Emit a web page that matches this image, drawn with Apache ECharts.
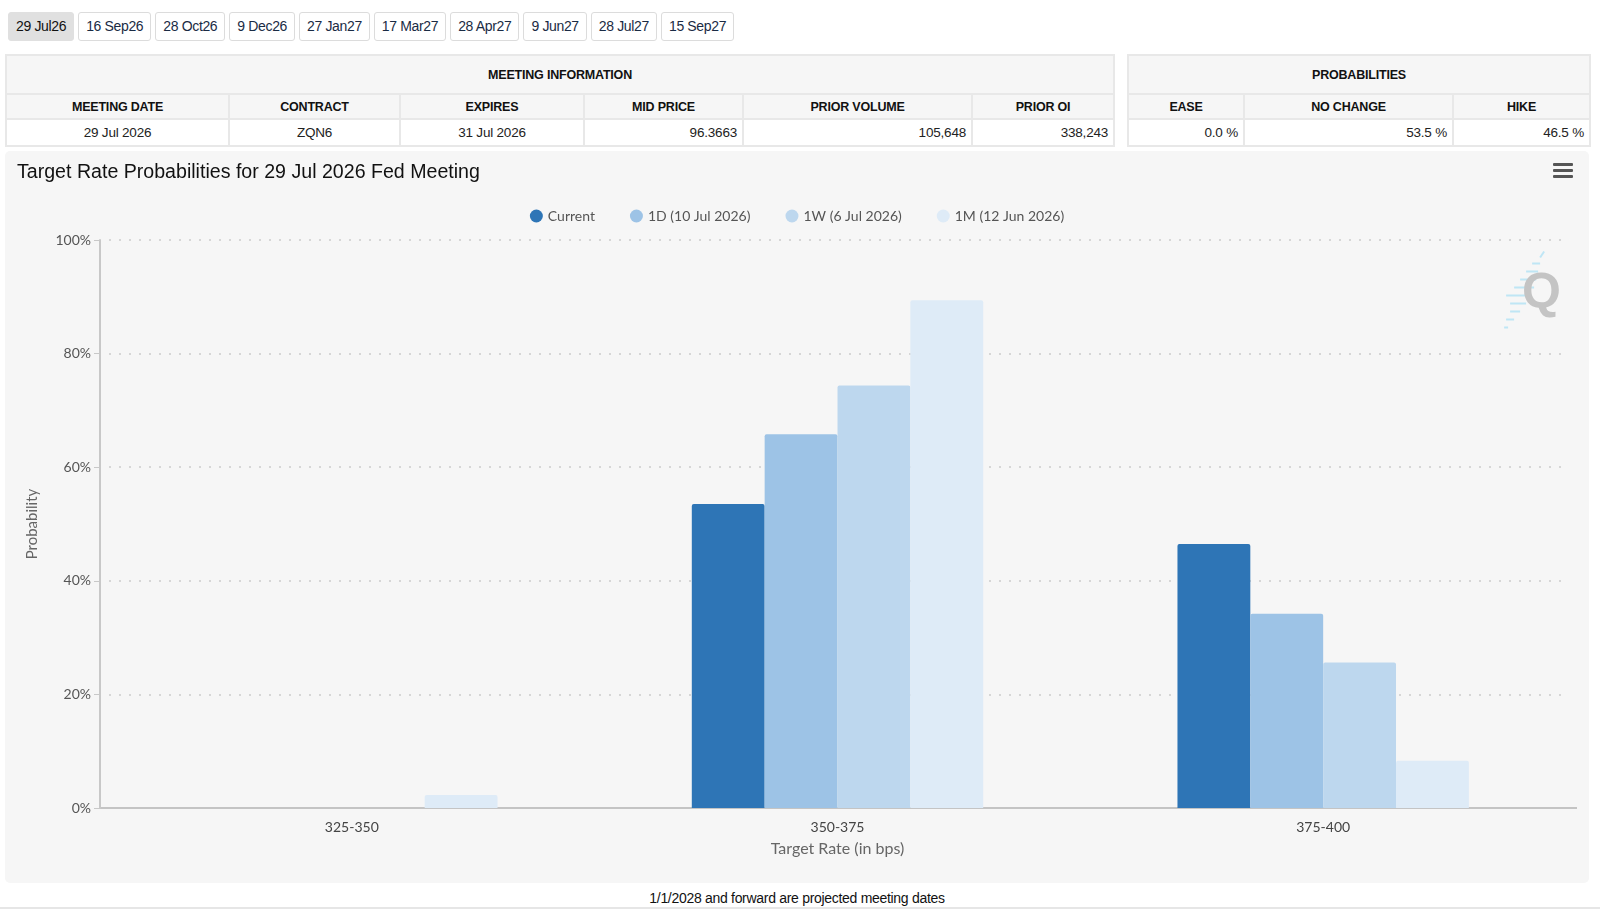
<!DOCTYPE html>
<html>
<head>
<meta charset="utf-8">
<title>Target Rate Probabilities</title>
<script src="https://cdn.jsdelivr.net/npm/echarts@6/dist/echarts.min.js"></script>
<style>
  html, body { margin: 0; padding: 0; background: #fff; }
  body { width: 1600px; height: 916px; position: relative; overflow: hidden;
         font-family: "Liberation Sans Narrow", "Arial Narrow", "Liberation Sans", Arial, sans-serif; color: #222; }
  .tabs { position: absolute; left: 8px; top: 12px; white-space: nowrap; font-size: 0; }
  .tabs span { display: inline-block; height: 27px; line-height: 27px; padding: 0 7px; margin-right: 4px;
               border: 1px solid #dcdcdc; border-radius: 3px; font-size: 14px; letter-spacing: -0.35px;
               color: #1a2b44; background: #fff; }
  .tabs span.on { background: #e0e0e0; border-color: #e0e0e0; color: #111; }
  table { position: absolute; border-collapse: collapse; table-layout: fixed; font-size: 13px; }
  td, th { border: 2px solid #e8e8e8; padding: 0 5px; }
  th { background: #f6f6f6; font-weight: bold; font-size: 12.5px; color: #111; letter-spacing: -0.2px; }
  tr.top { height: 39px; }
  tr.cols { height: 25px; }
  tr.data { height: 27px; }
  td { background: #fff; font-size: 13.5px; letter-spacing: -0.2px; }
  td.c { text-align: center; }
  td.r { text-align: right; }
  #chart { position: absolute; left: 5px; top: 151px; width: 1584px; height: 732px;
           background: #f6f6f6; border-radius: 5px; }
  .foot { position: absolute; left: 0; width: 1600px; top: 890px; text-align: center; font-size: 14px; color: #111;
          letter-spacing: -0.3px; }
  .foot span { position: relative; left: -3px; }
  .rule { position: absolute; left: 0; top: 907px; width: 1600px; height: 2px; background: #e6e6e6; }
</style>
</head>
<body>
<div class="tabs" id="tabs"></div>

<table id="meet" style="left:5px; top:54px; width:1108px;">
  <colgroup><col style="width:223px"><col style="width:171px"><col style="width:184px"><col style="width:159px"><col style="width:229px"><col style="width:142px"></colgroup>
  <tr class="top"><th colspan="6">MEETING INFORMATION</th></tr>
  <tr class="cols" id="meetHead"></tr>
  <tr class="data" id="meetRow"></tr>
</table>

<table id="prob" style="left:1127px; top:54px; width:462px;">
  <colgroup><col style="width:116px"><col style="width:209px"><col style="width:137px"></colgroup>
  <tr class="top"><th colspan="3">PROBABILITIES</th></tr>
  <tr class="cols" id="probHead"></tr>
  <tr class="data" id="probRow"></tr>
</table>

<div id="chart"></div>
<div class="foot"><span>1/1/2028 and forward are projected meeting dates</span></div>
<div class="rule"></div>

<script>
// meeting tabs
var meetingTabs = ['29 Jul26', '16 Sep26', '28 Oct26', '9 Dec26', '27 Jan27', '17 Mar27', '28 Apr27', '9 Jun27', '28 Jul27', '15 Sep27'];

// table contents
var meetHeaders = ['MEETING DATE', 'CONTRACT', 'EXPIRES', 'MID PRICE', 'PRIOR VOLUME', 'PRIOR OI'];
var meetValues = ['29 Jul 2026', 'ZQN6', '31 Jul 2026', '96.3663', '105,648', '338,243'];
var meetAlign = ['c', 'c', 'c', 'r', 'r', 'r'];
var probHeaders = ['EASE', 'NO CHANGE', 'HIKE'];
var probValues = ['0.0 %', '53.5 %', '46.5 %'];

// chart data
var rateBuckets = ['325-350', '350-375', '375-400'];
var currentProb = [0, 53.5, 46.5];
var oneDayProb = [0, 65.8, 34.2];
var oneWeekProb = [0, 74.4, 25.6];
var oneMonthProb = [2.3, 89.4, 8.3];
var seriesNames = ['Current', '1D (10 Jul 2026)', '1W (6 Jul 2026)', '1M (12 Jun 2026)'];
var seriesColors = ['#2e75b6', '#9dc3e6', '#bdd7ee', '#deebf7'];

var tabs = document.getElementById('tabs');
meetingTabs.forEach(function (t, i) {
  var s = document.createElement('span');
  s.textContent = t;
  if (i == 0) s.className = 'on';
  tabs.appendChild(s);
});

function fillRow(id, arr, tag, align) {
  var row = document.getElementById(id);
  arr.forEach(function (v, i) {
    var c = document.createElement(tag);
    c.textContent = v;
    if (align) c.className = align[i];
    row.appendChild(c);
  });
}
fillRow('meetHead', meetHeaders, 'th');
fillRow('meetRow', meetValues, 'td', meetAlign);
fillRow('probHead', probHeaders, 'th');
fillRow('probRow', probValues, 'td', ['r', 'r', 'r']);

var chart = echarts.init(document.getElementById('chart'));
var axisFont = 'Lato, "Open Sans", sans-serif';
var allData = [currentProb, oneDayProb, oneWeekProb, oneMonthProb];

// plot area (categories are padded in from the axis lines)
var chartW = 1584, chartH = 732;
var gridLeft = 104, gridRight = 23, gridBottom = 75, yAxisOffset = 9;
var axisY = chartH - gridBottom;

var option = {
  animation: false,
  textStyle: { fontFamily: axisFont },
  title: {
    text: 'Target Rate Probabilities for 29 Jul 2026 Fed Meeting',
    left: 7,
    top: 7,
    textStyle: { fontFamily: '"Liberation Sans", Arial, sans-serif', fontSize: 19.6, fontWeight: 'normal', color: '#111' }
  },
  legend: {
    top: 53,
    left: 'center',
    icon: 'circle',
    itemWidth: 13,
    itemHeight: 13,
    itemGap: 35,
    textStyle: { fontFamily: axisFont, fontSize: 14, color: '#555' },
    data: seriesNames
  },
  grid: { left: gridLeft, right: gridRight, top: 89, bottom: gridBottom },
  xAxis: {
    type: 'category',
    data: rateBuckets,
    name: 'Target Rate (in bps)',
    nameLocation: 'middle',
    nameGap: 33,
    nameTextStyle: { fontFamily: axisFont, fontSize: 16, color: '#666' },
    axisLine: { lineStyle: { color: '#c4c4c4', width: 2 } },
    axisTick: { alignWithLabel: true, length: 10, lineStyle: { color: '#dcdcdc' } },
    axisLabel: { fontFamily: axisFont, fontSize: 14, color: '#444', margin: 12 }
  },
  yAxis: {
    type: 'value',
    min: 0,
    max: 100,
    interval: 20,
    offset: yAxisOffset,
    name: 'Probability',
    nameLocation: 'middle',
    nameRotate: 90,
    nameGap: 60,
    nameTextStyle: { fontFamily: axisFont, fontSize: 15, color: '#666' },
    axisLine: { show: true, lineStyle: { color: '#c8c8c8', width: 2 } },
    axisTick: { show: true, length: 6, lineStyle: { color: '#c8c8c8' } },
    axisLabel: { formatter: '{value}%', fontFamily: axisFont, fontSize: 14, color: '#555', margin: 9 },
    splitLine: { lineStyle: { color: '#d6d6d6', width: 2, type: [2, 8] } }
  },
  series: seriesNames.map(function (n, i) {
    return {
      name: n,
      type: 'bar',
      data: allData[i],
      barGap: '0%',
      barCategoryGap: '40%',
      itemStyle: { color: seriesColors[i], borderRadius: [2, 2, 0, 0] },
      emphasis: { disabled: true }
    };
  }),
  graphic: [
    // x axis line continues past the padded category band
    { type: 'line', shape: { x1: gridLeft - yAxisOffset, y1: axisY, x2: gridLeft, y2: axisY }, style: { stroke: '#c4c4c4', lineWidth: 2 } },
    { type: 'line', shape: { x1: chartW - gridRight, y1: axisY, x2: chartW - 12, y2: axisY }, style: { stroke: '#c4c4c4', lineWidth: 2 } },
    // menu icon
    { type: 'rect', right: 16, top: 12, shape: { width: 20, height: 3, r: 1 }, style: { fill: '#555' } },
    { type: 'rect', right: 16, top: 18, shape: { width: 20, height: 3, r: 1 }, style: { fill: '#555' } },
    { type: 'rect', right: 16, top: 24, shape: { width: 20, height: 3, r: 1 }, style: { fill: '#555' } },
    // watermark
    {
      type: 'group', right: 28, top: 98,
      children: [
        { type: 'line', shape: { x1: 40, y1: 0, x2: 36, y2: 6 }, style: { stroke: '#bfe6f5', lineWidth: 2 } },
        { type: 'line', shape: { x1: 28, y1: 12, x2: 36, y2: 12 }, style: { stroke: '#bfe6f5', lineWidth: 2 } },
        { type: 'line', shape: { x1: 22, y1: 20, x2: 34, y2: 20 }, style: { stroke: '#bfe6f5', lineWidth: 2 } },
        { type: 'line', shape: { x1: 16, y1: 28, x2: 32, y2: 28 }, style: { stroke: '#bfe6f5', lineWidth: 2 } },
        { type: 'line', shape: { x1: 10, y1: 36, x2: 30, y2: 36 }, style: { stroke: '#bfe6f5', lineWidth: 2 } },
        { type: 'line', shape: { x1: 2, y1: 44, x2: 26, y2: 44 }, style: { stroke: '#bfe6f5', lineWidth: 2 } },
        { type: 'line', shape: { x1: 6, y1: 52, x2: 22, y2: 52 }, style: { stroke: '#bfe6f5', lineWidth: 2 } },
        { type: 'line', shape: { x1: 6, y1: 60, x2: 16, y2: 60 }, style: { stroke: '#bfe6f5', lineWidth: 2 } },
        { type: 'line', shape: { x1: 2, y1: 68, x2: 10, y2: 68 }, style: { stroke: '#bfe6f5', lineWidth: 2 } },
        { type: 'line', shape: { x1: 0, y1: 76, x2: 4, y2: 76 }, style: { stroke: '#bfe6f5', lineWidth: 2 } },
        { type: 'text', x: 18, y: 18, style: { text: 'Q', fontSize: 50, fontWeight: 'bold', fontFamily: '"Liberation Sans", Arial, sans-serif', fill: '#c4c4c4' } }
      ]
    }
  ]
};

chart.setOption(option);
</script>
</body>
</html>
